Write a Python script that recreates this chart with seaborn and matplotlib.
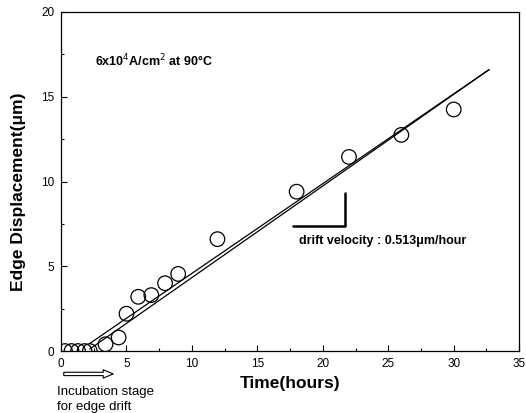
import matplotlib
matplotlib.use("Agg")
import matplotlib.pyplot as plt
import seaborn as sns
import pandas as pd
from matplotlib.ticker import MultipleLocator

# Data
time_h = [0.3, 0.8, 1.3, 1.8, 2.2, 3.4, 4.4, 5.0, 5.9, 6.9, 7.95, 8.95, 11.95, 18.0, 22.0, 26.0, 30.0]
disp_um = [0.0, 0.0, 0.0, 0.0, 0.0, 0.4, 0.8, 2.2, 3.2, 3.3, 4.0, 4.55, 6.6, 9.4, 11.45, 12.75, 14.25]

fit_x = [2.2, 32.7]
fit_upper_y = [0.45, 16.6]
fit_lower_y = [0.12, 16.6]

slope_x = [17.7, 21.7, 21.7]
slope_y = [7.37, 7.37, 9.3]

sns.set_theme(style="ticks")
plt.rcParams['font.family'] = ['Liberation Sans', 'DejaVu Sans']
plt.rcParams['text.color'] = 'black'
plt.rcParams['axes.labelcolor'] = 'black'

fig = plt.figure(figsize=(5.26, 4.13), dpi=100)
ax = fig.add_axes([0.116, 0.150, 0.871, 0.821])

df = pd.DataFrame({"t": time_h, "d": disp_um})
sns.lineplot(x=fit_x, y=fit_upper_y, ax=ax, color="black", lw=0.9)
sns.lineplot(x=fit_x, y=fit_lower_y, ax=ax, color="black", lw=0.9)
sns.lineplot(x=slope_x, y=slope_y, ax=ax, color="black", lw=1.8,
             sort=False, estimator=None)
sns.scatterplot(data=df, x="t", y="d", ax=ax, marker="o", s=110,
                facecolor="none", edgecolor="black", linewidth=0.9, zorder=3)

ax.set_xlim(0, 35)
ax.set_ylim(0, 20)
ax.xaxis.set_major_locator(MultipleLocator(5))
ax.xaxis.set_minor_locator(MultipleLocator(2.5))
ax.yaxis.set_major_locator(MultipleLocator(5))
ax.yaxis.set_minor_locator(MultipleLocator(2.5))
ax.tick_params(which="both", direction="in", top=False, right=False,
               labelsize=8.5, color="black", labelcolor="black")
ax.tick_params(which="major", length=4, width=0.8, pad=5)
ax.tick_params(which="minor", length=2.5, width=0.8)
for s in ax.spines.values():
    s.set_color("black")
    s.set_linewidth(0.9)

ax.set_xlabel("Time(hours)", fontsize=12.5, fontweight="bold", labelpad=4)
ax.set_ylabel("Edge Displacement(\u03bcm)", fontsize=12.5, fontweight="bold", labelpad=6)
ax.yaxis.set_label_coords(-0.076, 0.47)

ax.text(2.6, 17.1, "6x10$^4$A/cm$^2$ at 90\u00b0C", fontsize=9, fontweight="bold",
        va="center", ha="left")
ax.text(18.2, 6.5, "drift velocity : 0.513\u03bcm/hour", fontsize=9,
        fontweight="bold", va="center", ha="left")

ax.annotate("", xy=(4.2, -1.35), xytext=(0.0, -1.35), xycoords="data",
            annotation_clip=False,
            arrowprops=dict(arrowstyle="simple,head_length=0.6,head_width=0.5,tail_width=0.2",
                            facecolor="white", edgecolor="black", lw=0.8))
ax.text(-0.3, -2.05, "Incubation stage\nfor edge drift", fontsize=9.5,
        va="top", ha="left", linespacing=1.35, clip_on=False)

fig.savefig("out.png", dpi=100)
